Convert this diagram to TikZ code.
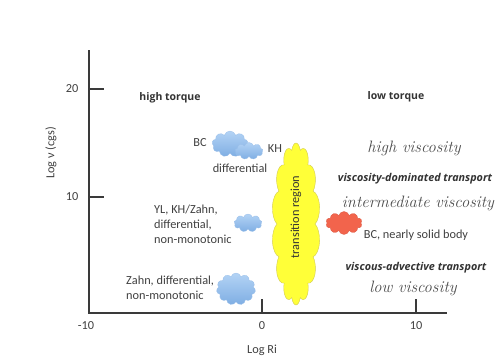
\documentclass[tikz,border=0pt]{standalone}
\usepackage{fontspec}
\newfontfamily\labelfont{Carlito}
\newfontfamily\headfont{Open Sans}
\usetikzlibrary{shapes.symbols,positioning}
\definecolor{textgray}{HTML}{404040}
\definecolor{axisgray}{HTML}{3A3A3A}
\definecolor{cloudtop}{HTML}{B3D3F5}
\definecolor{cloudbot}{HTML}{7FAEE3}
\definecolor{cloudred}{HTML}{F2644C}
\definecolor{transfill}{HTML}{FFFF38}

\begin{document}
\begin{tikzpicture}[x=1pt, y=-1pt,
    lbl/.style={font=\labelfont\fontsize{12.3}{15}\selectfont, text=textgray, inner sep=1pt},
    torque/.style={font=\headfont\bfseries\fontsize{10.5}{13}\selectfont, text=black!80},
    transp/.style={font=\headfont\bfseries\itshape\fontsize{10.8}{12}\selectfont, text=black!80},
    hand/.style={font=\itshape\fontsize{16.5}{18}\selectfont, text=black!70},
    axis/.style={line width=1.1pt, draw=axisgray},
    puff/.style={cloud, cloud puffs=9, cloud ignores aspect, inner sep=0pt, draw=cloudbot!80!white, line width=0.3pt, top color=cloudtop, bottom color=cloudbot},
    redpuff/.style={cloud, cloud puffs=10, cloud ignores aspect, inner sep=0pt, fill=cloudred, draw=cloudred!90!black, line width=0.3pt},
    transition/.style={cloud, cloud puffs=14, cloud ignores aspect, inner sep=0pt, fill=transfill, draw=yellow!60!gray, line width=0.4pt}
]
\useasboundingbox (0,0) rectangle (500,356);

% axes
\coordinate (origin) at (89,313);
\coordinate (ytop) at (89,50);
\coordinate (xend) at (447,313);
\draw[axis] (ytop) -- (origin) -- (xend);
\coordinate (y20) at (89,89);
\coordinate (y10) at (89,197);
\coordinate (x0) at (262,313);
\coordinate (x10) at (416,313);
\draw[axis] (y20) -- ++(15,0);
\draw[axis] (y10) -- ++(15,0);
\draw[axis] (x0) -- ++(0,-14);
\draw[axis] (x10) -- ++(0,-14);

\node[lbl] (l20) at (72,89) {20};
\node[lbl] (l10) at (72,197) {10};
\node[lbl] (lm10) at (86,326) {-10};
\node[lbl] (lx0) at (262,326) {0};
\node[lbl] (lx10) at (416,326) {10};
\node[lbl] (xlabel) at (262,350) {Log Ri};
\node[lbl, rotate=90] (ylabel) at (51,153) {Log ν (cgs)};

% regimes
\node[torque] (hightorque) at (170,98) {high torque};
\node[torque] (lowtorque) at (396,97) {low torque};

% clouds, left side
\node[puff, minimum width=36, minimum height=26] (bc) at (230,144) {};
\node[puff, minimum width=28, minimum height=17] (kh) at (249,151) {};
\node[lbl] (bclabel) at (200,143) {BC};
\node[lbl] (khlabel) at (275,149) {KH};
\node[lbl] (difflabel) at (240,168) {differential};

\node[puff, minimum width=28, minimum height=18] (yl) at (248,223) {};
\node[lbl, anchor=west, align=left] (yllabel) at (153,224) {YL, KH/Zahn,\\differential,\\non-monotonic};

\node[puff, cloud puffs=11, minimum width=39, minimum height=32] (zahn) at (236,289) {};
\node[lbl, anchor=west, align=left] (zahnlabel) at (125,288) {Zahn, differential,\\non-monotonic};

% transition
\begin{scope}[shift={(296,224)}, xscale=0.44]
\node[transition, transform shape, minimum width=110, minimum height=162] (trans) at (0,0) {};
\end{scope}
\node[lbl, text=black!80, rotate=90] (translabel) at (296,217) {transition region};

% right side
\node[redpuff, minimum width=36, minimum height=23] (solid) at (344,223) {};
\node[lbl] (solidlabel) at (416,235) {BC, nearly solid body};

\node[hand] (highvisc) at (414,148) {high viscosity};
\node[transp] (vdt) at (415,179) {viscosity-dominated transport};
\node[hand] (midvisc) at (418,203) {intermediate viscosity};
\node[transp] (vat) at (416,268) {viscous-advective transport};
\node[hand] (lowvisc) at (413,288) {low viscosity};
\end{tikzpicture}
\end{document}
